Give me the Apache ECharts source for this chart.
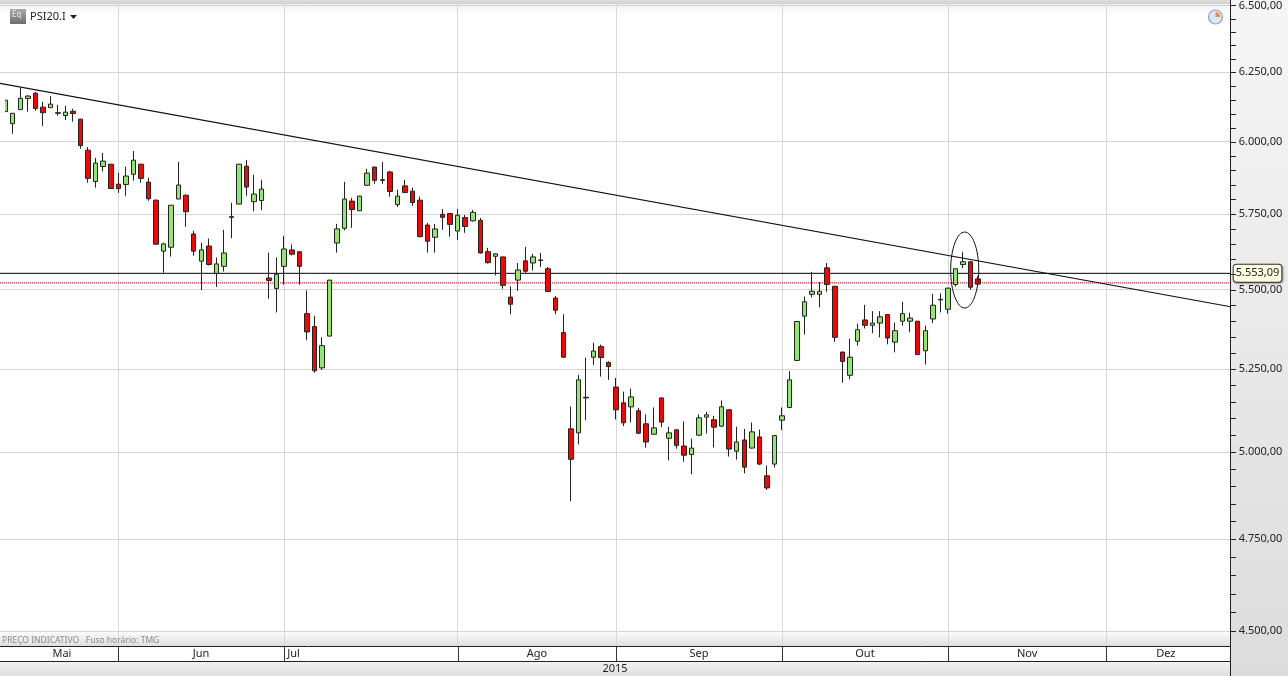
<!DOCTYPE html>
<html>
<head>
<meta charset="utf-8">
<style>html,body{margin:0;padding:0;background:#fff}#c{width:1288px;height:676px}</style>
<script src="https://cdn.jsdelivr.net/npm/echarts@6/dist/echarts.min.js"></script>
</head>
<body>
<div id="c"></div>
<script>
var opens = [6107,6064,6114,6154,6173,6123,6121,6103,6093,6108,6080,5970,5861,5913,5921,5852,5851,5886,5921,5859,5797,5626,5639,5801,5814,5683,5593,5643,5553,5576,5741,5784,5914,5792,5796,5538,5504,5576,5630,5624,5423,5382,5253,5352,5653,5702,5794,5761,5848,5911,5867,5894,5782,5846,5828,5797,5713,5672,5749,5752,5693,5738,5727,5729,5624,5609,5607,5476,5531,5594,5587,5597,5568,5473,5363,5068,5056,5163,5286,5319,5270,5194,5146,5134,5122,5083,5052,5161,5040,5065,5017,4992,5049,5103,5095,5076,5125,5002,5035,5011,5044,4930,4964,5094,5132,5276,5415,5485,5485,5571,5511,5302,5230,5336,5403,5386,5393,5420,5333,5399,5399,5399,5306,5406,5469,5437,5517,5582,5591,5535];
var closes = [6148,6101,6155,6163,6118,6103,6134,6101,6105,6100,5986,5872,5925,5932,5837,5837,5880,5935,5872,5802,5649,5650,5780,5849,5758,5626,5630,5582,5584,5620,5739,5921,5842,5818,5835,5530,5550,5633,5616,5576,5365,5244,5322,5531,5700,5801,5765,5811,5890,5865,5865,5827,5811,5823,5789,5674,5659,5700,5739,5715,5746,5708,5756,5620,5588,5617,5514,5453,5564,5560,5607,5595,5494,5434,5286,4978,5216,5161,5305,5285,5257,5125,5086,5164,5055,5029,5071,5088,5056,5019,4990,5011,5101,5110,5073,5134,5008,5029,4955,5059,4964,4895,5048,5107,5216,5398,5461,5495,5495,5517,5348,5273,5286,5372,5386,5393,5413,5346,5369,5423,5409,5294,5369,5450,5467,5505,5568,5591,5508,5518];
var lows = [6107,6028,6114,6107,6110,6056,6121,6092,6077,6071,5975,5857,5840,5896,5836,5822,5812,5864,5857,5795,5648,5555,5608,5801,5707,5611,5499,5579,5509,5559,5669,5783,5812,5760,5764,5471,5427,5516,5612,5516,5339,5238,5247,5351,5621,5695,5704,5760,5847,5853,5853,5809,5774,5822,5778,5672,5621,5621,5697,5674,5664,5687,5725,5618,5585,5546,5503,5421,5496,5555,5562,5574,5493,5421,5285,4857,5022,5094,5262,5226,5216,5096,5076,5087,5052,5012,5051,5073,4975,5009,4971,4935,5048,5054,5013,5073,4986,4977,4937,5010,4961,4889,4954,5064,5130,5275,5357,5475,5443,5493,5334,5207,5218,5322,5376,5361,5348,5326,5301,5385,5364,5293,5263,5393,5427,5423,5510,5570,5500,5515];
var highs = [6148,6102,6193,6167,6178,6142,6163,6131,6128,6117,6081,5981,5943,5960,5922,5891,5912,5967,5922,5874,5800,5654,5781,5929,5816,5694,5654,5668,5605,5697,5788,5922,5936,5884,5867,5621,5605,5677,5648,5625,5498,5416,5348,5532,5717,5860,5805,5812,5905,5912,5929,5898,5833,5867,5840,5809,5720,5717,5767,5753,5767,5747,5764,5737,5637,5618,5608,5511,5587,5640,5617,5620,5574,5480,5421,5135,5231,5284,5331,5325,5273,5222,5180,5189,5131,5111,5132,5162,5074,5066,5090,5039,5111,5119,5107,5153,5127,5074,5068,5087,5066,4960,5049,5132,5243,5400,5478,5558,5525,5587,5512,5303,5344,5391,5451,5431,5431,5421,5394,5461,5426,5400,5385,5486,5488,5506,5569,5624,5592,5544];

var priceTicks = [4500,4750,5000,5250,5500,5750,6000,6250,6500];
var minorTicks = [];
for (var t = 4500; t <= 6500; t += 50) minorTicks.push(t);
var lastPrice = 5553.09;
var redLevel = 5522;
var xMin = -0.686, xMax = 162.5;
var trendStart = [xMin, 6209];
var trendEnd = [xMax, 5445];
var ellipseBox = [[127.23, 5689.6, 5441, 1.86]];

var monthNames = ['Mai','Jun','Jul','Ago','Sep','Out','Nov','Dez'];
var monthCenters = [7.53,25.96,38.23,70.52,91.99,114,135.5,153.9];
var monthStarts = [15,37,60,81,103,125,146];
var yearLabel = '2015';
var yearCenter = 80.86;

var candles = opens.map(function(o,i){ return [i, o, closes[i], lows[i], highs[i]]; });

function fmt(v){
  var p = v.toFixed(2).split('.');
  return p[0].replace(/\B(?=(\d{3})+$)/g,'.') + ',' + p[1];
}
var FONT = '"Noto Sans"';
var chart = echarts.init(document.getElementById('c'), null, {renderer:'canvas'});
function grad(a,b){ return new echarts.graphic.LinearGradient(0,0,0,1,[{offset:0,color:a},{offset:1,color:b}]); }
var decor = [
    {type:'rect',z:-10,silent:true,shape:{x:1230,y:0,width:58,height:676},style:{fill:grad('#f6f6f6','#dcdcdc')}},
    {type:'rect',z:-10,silent:true,shape:{x:0,y:0,width:1230,height:4},style:{fill:grad('#dedede','#cfcfcf')}},
    {type:'rect',z:-10,silent:true,shape:{x:0,y:4,width:1230,height:12},style:{fill:grad('#f2f2f2','#ffffff')}},
    {type:'rect',z:-10,silent:true,shape:{x:0,y:632,width:1230,height:14},style:{fill:grad('#fbfbfb','#dfdfdf')}},
    {type:'rect',z:-10,silent:true,shape:{x:0,y:661,width:1230,height:15},style:{fill:grad('#f4f4f4','#dedede')}},
    {type:'rect',z:10,silent:true,shape:{x:0,y:98,width:5,height:14},style:{fill:'#ffffff'}},
    {type:'line',z:20,silent:true,shape:{x1:0,y1:646.5,x2:1230,y2:646.5},style:{stroke:'#222',lineWidth:1}},
    {type:'line',z:20,silent:true,shape:{x1:0,y1:661.5,x2:1230,y2:661.5},style:{stroke:'#222',lineWidth:1}},
    {type:'line',z:20,silent:true,shape:{x1:1230.5,y1:0,x2:1230.5,y2:676},style:{stroke:'#222',lineWidth:1}},
    {type:'text',z:20,silent:true,style:{text:'PREÇO INDICATIVO   Fuso horário: TMG',x:2,y:641,verticalAlign:'middle',font:'8.5px '+FONT,fill:'#8a8a8a'}},
    {type:'rect',z:20,silent:true,shape:{x:10,y:9,width:16,height:15},style:{fill:grad('#a8a8a8','#6e6e6e')}},
    {type:'text',z:21,silent:true,style:{text:'Eq',x:12,y:15,verticalAlign:'middle',font:'8px '+FONT,fill:'#e8e8e8'}},
    {type:'text',z:20,silent:true,style:{text:'PSI20.I',x:30,y:17,verticalAlign:'middle',font:'11px '+FONT,fill:'#222'}},
    {type:'polygon',z:20,silent:true,shape:{points:[[70,15],[77,15],[73.5,19]]},style:{fill:'#222'}},
    {type:'circle',z:20,silent:true,shape:{cx:1215.5,cy:17,r:7},style:{fill:'#dbe8f5',stroke:'#8aa3bd',lineWidth:1.2}},
    {type:'sector',z:21,silent:true,shape:{cx:1215.5,cy:17,r:5,r0:0,startAngle:-Math.PI/2,endAngle:0},style:{fill:'#f08a4b'}}
];
chart.setOption({
  animation:false,
  backgroundColor:'#ffffff',
  grid:{left:0,right:57.3,top:0,height:646,containLabel:false},
  xAxis:[
    {type:'value',min:xMin,max:xMax,
      axisLine:{show:false},axisTick:{show:false,customValues:monthStarts},axisLabel:{show:false,customValues:monthStarts},
      splitLine:{show:true,lineStyle:{color:'#d9d9d9',width:1}}}
  ],
  yAxis:[
    {type:'log',logBase:10,min:4460.6,max:6515.3,position:'right',
      axisLine:{show:false,onZero:false},
      axisTick:{show:false,customValues:priceTicks},
      axisLabel:{show:true,customValues:priceTicks,margin:8,color:'#222',fontFamily:FONT,fontSize:11,formatter:function(v){return fmt(+v);},showMinLabel:true,showMaxLabel:true},
      splitLine:{show:true,lineStyle:{color:'#d4d4d4',width:1}}}
  ],
  series:[
    {type:'candlestick',name:'PSI20.I',data:candles,barWidth:5,z:3,
      itemStyle:{color:'#93e56c',color0:'#ff0000',borderColor:'#222',borderColor0:'#222',borderWidth:1}},
    {type:'line',name:'last',data:[[xMin,lastPrice],[xMax,lastPrice]],symbol:'none',z:2,
      lineStyle:{color:'#000',width:1},
      endLabel:{show:true,distance:3,formatter:function(){return fmt(lastPrice);},color:'#222',fontFamily:FONT,fontSize:11,
        backgroundColor:'#ffffe1',borderColor:'#333',borderWidth:1,borderRadius:3,padding:[3,2,3,2],
        shadowColor:'rgba(0,0,0,0.3)',shadowBlur:2,shadowOffsetX:1,shadowOffsetY:1}},
    {type:'line',name:'level',data:[[xMin,redLevel],[xMax,redLevel]],symbol:'none',z:2,
      lineStyle:{color:'#ff0000',width:1,type:'dotted'}},
    {type:'line',name:'trend',data:[trendStart,trendEnd],showSymbol:false,symbol:'none',z:4,
      lineStyle:{color:'#111',width:1.2}},
    {type:'custom',name:'ellipse',z:5,silent:true,data:ellipseBox,encode:{x:0,y:1},
      renderItem:function(p,api){
        var top = api.coord([api.value(0),api.value(1)]);
        var bot = api.coord([api.value(0),api.value(2)]);
        var side = api.coord([api.value(0)+api.value(3),api.value(1)]);
        return {type:'ellipse',shape:{cx:top[0],cy:(top[1]+bot[1])/2,rx:side[0]-top[0],ry:(bot[1]-top[1])/2},
          style:{stroke:'#111',fill:null,lineWidth:1}};
      }},
    {type:'custom',name:'months',z:6,silent:true,data:monthCenters.map(function(c){return [c,5000];}),encode:{x:0,y:1},
      renderItem:function(p,api){
        var c = api.coord([api.value(0),5000]);
        return {type:'text',style:{text:monthNames[p.dataIndex],x:c[0],y:654,align:'center',verticalAlign:'middle',font:'11px '+FONT,fill:'#222'}};
      }},
    {type:'custom',name:'monthSeps',z:6,silent:true,data:monthStarts.map(function(c){return [c,5000];}),encode:{x:0,y:1},
      renderItem:function(p,api){
        var c = api.coord([api.value(0),5000]);
        return {type:'line',shape:{x1:Math.round(c[0])+0.5,y1:646,x2:Math.round(c[0])+0.5,y2:661},style:{stroke:'#333',lineWidth:1}};
      }},
    {type:'custom',name:'year',z:6,silent:true,data:[[yearCenter,5000]],encode:{x:0,y:1},
      renderItem:function(p,api){
        var c = api.coord([api.value(0),5000]);
        return {type:'text',style:{text:yearLabel,x:c[0],y:669,align:'center',verticalAlign:'middle',font:'11px '+FONT,fill:'#222'}};
      }}
  ],
  graphic:decor
});
var tickMarks = minorTicks.map(function(v){
  var y = Math.round(chart.convertToPixel({yAxisIndex:0}, v)) + 0.5;
  return {type:'line',z:20,silent:true,shape:{x1:1231,y1:y,x2:1236,y2:y},style:{stroke:'#222',lineWidth:1}};
});
chart.setOption({graphic:decor.concat(tickMarks)});
</script>
</body>
</html>
